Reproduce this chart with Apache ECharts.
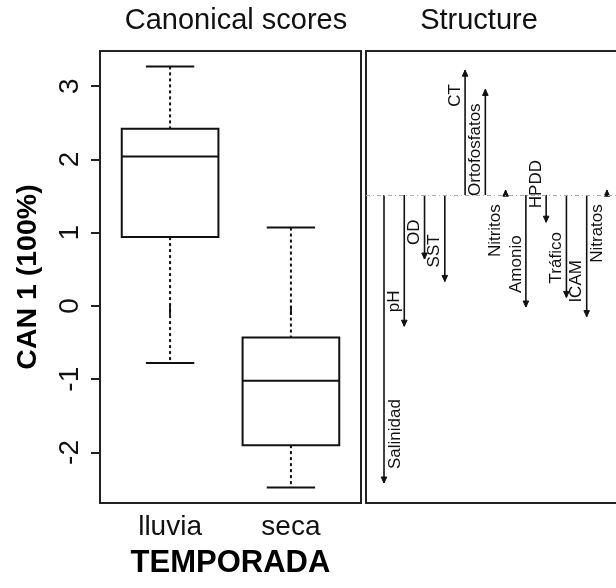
<!DOCTYPE html>
<html><head><meta charset="utf-8">
<script src="https://cdn.jsdelivr.net/npm/echarts@6/dist/echarts.min.js"></script>
<style>html,body{margin:0;padding:0;background:#fff}#c{width:616px;height:588px}</style>
</head><body><div id="c"></div>
<script>
// ---- data ----
const groups = ['lluvia', 'seca'];
const groupPos = [1, 2];
// [min, Q1, median, Q3, max]
const lluviaStats = [-0.78, 0.94, 2.04, 2.42, 3.27];
const secaStats = [-2.48, -1.90, -1.02, -0.43, 1.07];
const yTicks = [-2, -1, 0, 1, 2, 3];
const variables = ['Salinidad', 'pH', 'OD', 'SST', 'CT', 'Ortofosfatos', 'Nitritos', 'Amonio', 'HPDD', 'Tráfico', 'ICAM', 'Nitratos'];
const structure = [-0.90, -0.41, -0.20, -0.27, 0.39, 0.33, 0.015, -0.35, -0.085, -0.32, -0.38, 0.015];

const FONT = "'Liberation Sans', Arial, sans-serif";
const INK = '#111';

const boxData = [[groupPos[0]].concat(lluviaStats), [groupPos[1]].concat(secaStats)];
const structData = variables.map((n, i) => [i + 1, structure[i], n]);

function renderBox(params, api) {
  const x = api.value(0), lo = api.value(1), q1 = api.value(2), med = api.value(3), q3 = api.value(4), hi = api.value(5);
  const hw = 0.4, cw = 0.2;
  const tl = api.coord([x - hw, q3]), br = api.coord([x + hw, q1]);
  const m1 = api.coord([x - hw, med]), m2 = api.coord([x + hw, med]);
  const cHi = api.coord([x, hi]), cQ3 = api.coord([x, q3]), cQ1 = api.coord([x, q1]), cLo = api.coord([x, lo]);
  const hi1 = api.coord([x - cw, hi]), hi2 = api.coord([x + cw, hi]);
  const lo1 = api.coord([x - cw, lo]), lo2 = api.coord([x + cw, lo]);
  const solid = {stroke: INK, lineWidth: 2, fill: null};
  const dashed = {stroke: INK, lineWidth: 2, lineDash: [3, 3]};
  return {type: 'group', children: [
    {type: 'line', shape: {x1: cHi[0], y1: cHi[1], x2: cQ3[0], y2: cQ3[1]}, style: dashed},
    {type: 'line', shape: {x1: cQ1[0], y1: cQ1[1], x2: cLo[0], y2: cLo[1]}, style: dashed},
    {type: 'rect', shape: {x: tl[0], y: tl[1], width: br[0] - tl[0], height: br[1] - tl[1]}, style: {stroke: INK, lineWidth: 2, fill: '#fff'}},
    {type: 'line', shape: {x1: m1[0], y1: m1[1], x2: m2[0], y2: m2[1]}, style: solid},
    {type: 'line', shape: {x1: hi1[0], y1: hi1[1], x2: hi2[0], y2: hi2[1]}, style: solid},
    {type: 'line', shape: {x1: lo1[0], y1: lo1[1], x2: lo2[0], y2: lo2[1]}, style: solid}
  ]};
}

function renderArrow(params, api) {
  const x = api.value(0), v = api.value(1);
  const name = variables[params.dataIndex];
  const base = api.coord([x, 0]), tip = api.coord([x, v]);
  const up = v > 0 ? 1 : -1;
  const headL = 6, headW = 2.8;
  const back = tip[1] + up * headL;
  const dx = (base[0] - 24 < params.coordSys.x) ? 11 : -10;
  const ly = tip[1] + up * 14;
  return {type: 'group', children: [
    {type: 'line', shape: {x1: base[0], y1: base[1], x2: tip[0], y2: tip[1]}, style: {stroke: INK, lineWidth: 1.6}},
    {type: 'polygon', shape: {points: [[tip[0], tip[1]], [tip[0] - headW, back], [tip[0] + headW, back]]}, style: {fill: INK, stroke: INK, lineWidth: 1}},
    {type: 'text', x: base[0] + dx, y: ly, rotation: Math.PI / 2,
      style: {text: name, x: 0, y: 0, align: v > 0 ? 'right' : 'left', verticalAlign: 'middle', fontSize: 17, fontFamily: FONT, fill: INK}}
  ]};
}

const frameLine = {show: true, onZero: false, lineStyle: {color: '#222', width: 2}};

const chart = echarts.init(document.getElementById('c'), null, {renderer: 'canvas'});
chart.setOption({
  backgroundColor: '#fff',
  animation: false,
  title: [
    {text: 'Canonical scores', left: 236, top: 6, padding: 0, textAlign: 'center', textStyle: {fontSize: 29, fontWeight: 'normal', color: INK, fontFamily: FONT}},
    {text: 'Structure', left: 479, top: 6, padding: 0, textAlign: 'center', textStyle: {fontSize: 29, fontWeight: 'normal', color: INK, fontFamily: FONT}}
  ],
  grid: [
    {left: 100, top: 51, width: 261, height: 452, show: true, borderColor: '#222', borderWidth: 2, backgroundColor: 'transparent'},
    {left: 366, top: 51, width: 250, height: 452, show: false}
  ],
  xAxis: [
    {gridIndex: 0, type: 'value', min: 0.42, max: 2.58,
      name: 'TEMPORADA', nameLocation: 'middle', nameGap: 45,
      nameTextStyle: {fontSize: 31, fontWeight: 'bold', color: '#000', fontFamily: FONT},
      axisLine: {show: false}, splitLine: {show: false},
      axisTick: {show: true, length: 9, lineStyle: {color: '#222', width: 2}, customValues: groupPos},
      axisLabel: {show: true, margin: 10, fontSize: 28, color: INK, fontFamily: FONT, customValues: groupPos,
        formatter: v => groups[groupPos.indexOf(v)] || ''}},
    {gridIndex: 1, type: 'value', min: 0.112, max: 12.446, position: 'bottom',
      axisLine: frameLine, axisTick: {show: false}, axisLabel: {show: false}, splitLine: {show: false}},
    {gridIndex: 1, type: 'value', min: 0.112, max: 12.446, position: 'top',
      axisLine: frameLine, axisTick: {show: false}, axisLabel: {show: false}, splitLine: {show: false}}
  ],
  yAxis: [
    {gridIndex: 0, type: 'value', min: -2.69, max: 3.48,
      name: 'CAN 1 (100%)', nameLocation: 'middle', nameGap: 57, nameRotate: 90,
      nameTextStyle: {fontSize: 28.5, fontWeight: 'bold', color: '#000', fontFamily: FONT},
      axisLine: {show: false}, splitLine: {show: false},
      axisTick: {show: true, length: 9, lineStyle: {color: '#222', width: 2}, customValues: yTicks},
      axisLabel: {show: true, rotate: 90, margin: 16, fontSize: 28, color: INK, fontFamily: FONT, customValues: yTicks}},
    {gridIndex: 1, type: 'value', min: -0.9625, max: 0.45, position: 'left',
      axisLine: frameLine, axisTick: {show: false}, axisLabel: {show: false}, splitLine: {show: false}}
  ],
  series: [
    {type: 'custom', xAxisIndex: 0, yAxisIndex: 0, data: boxData, renderItem: renderBox, encode: {x: 0, y: [1, 2, 3, 4, 5]}, silent: true, clip: false},
    {type: 'custom', xAxisIndex: 1, yAxisIndex: 1, data: structData, renderItem: renderArrow, encode: {x: 0, y: 1}, silent: true, clip: false,
      markLine: {silent: true, symbol: 'none', label: {show: false},
        lineStyle: {color: '#aaa', type: [4, 3, 1, 3], width: 1.2}, data: [{yAxis: 0}]}}
  ]
});
</script>
</body></html>
